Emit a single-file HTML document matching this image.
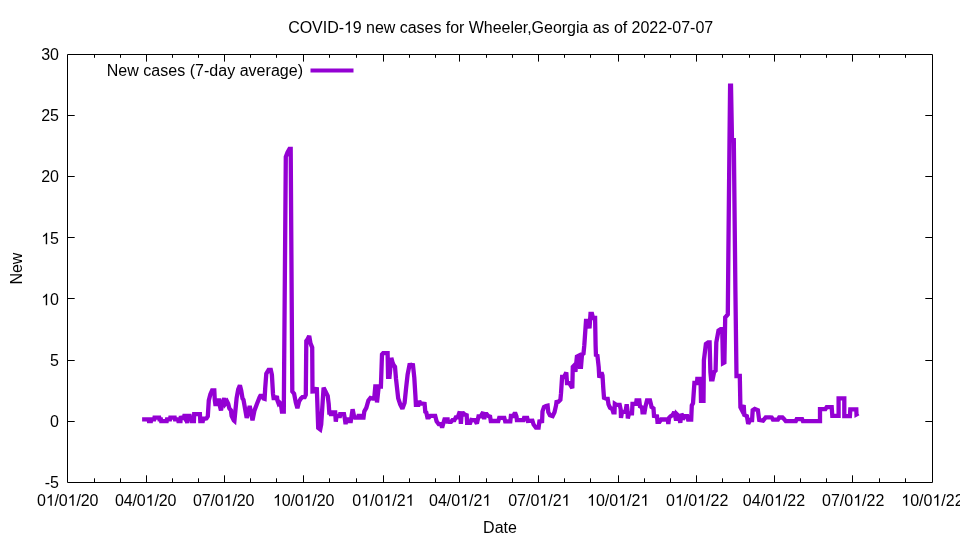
<!DOCTYPE html>
<html><head><meta charset="utf-8"><style>
html,body{margin:0;padding:0;background:#fff;}
svg{display:block;will-change:transform;}
text{font-family:"Liberation Sans",sans-serif;font-size:16px;fill:#000;}
</style></head><body>
<svg width="960" height="540" viewBox="0 0 960 540">
<defs><path id="one" d="M763,0L583,0L583,1147Q518,1085 412.5,1023Q307,961 223,930L223,1104Q374,1175 485,1276Q596,1377 643,1466L763,1466Z" fill="#000"/></defs>
<rect width="960" height="540" fill="#fff"/>
<path d="M67.5,54.5H932.5V482.5H67.5Z" fill="none" stroke="#000" stroke-width="1"/>
<path d="M146.5,482.5V475.3M146.5,54.5V61.6M224.5,482.5V475.3M224.5,54.5V61.6M303.5,482.5V475.3M303.5,54.5V61.6M383.5,482.5V475.3M383.5,54.5V61.6M459.5,482.5V475.3M459.5,54.5V61.6M538.5,482.5V475.3M538.5,54.5V61.6M618.5,482.5V475.3M618.5,54.5V61.6M696.5,482.5V475.3M696.5,54.5V61.6M774.5,482.5V475.3M774.5,54.5V61.6M852.5,482.5V475.3M852.5,54.5V61.6M94.5,482.5V478.3M94.5,54.5V57.8M120.5,482.5V478.3M120.5,54.5V57.8M172.5,482.5V478.3M172.5,54.5V57.8M198.5,482.5V478.3M198.5,54.5V57.8M250.5,482.5V478.3M250.5,54.5V57.8M276.5,482.5V478.3M276.5,54.5V57.8M329.5,482.5V478.3M329.5,54.5V57.8M356.5,482.5V478.3M356.5,54.5V57.8M409.5,482.5V478.3M409.5,54.5V57.8M435.5,482.5V478.3M435.5,54.5V57.8M486.5,482.5V478.3M486.5,54.5V57.8M512.5,482.5V478.3M512.5,54.5V57.8M564.5,482.5V478.3M564.5,54.5V57.8M590.5,482.5V478.3M590.5,54.5V57.8M644.5,482.5V478.3M644.5,54.5V57.8M670.5,482.5V478.3M670.5,54.5V57.8M722.5,482.5V478.3M722.5,54.5V57.8M749.5,482.5V478.3M749.5,54.5V57.8M800.5,482.5V478.3M800.5,54.5V57.8M826.5,482.5V478.3M826.5,54.5V57.8M879.5,482.5V478.3M879.5,54.5V57.8M905.5,482.5V478.3M905.5,54.5V57.8M67.5,115.5H74.7M932.5,115.5H925.3M67.5,176.5H74.7M932.5,176.5H925.3M67.5,237.5H74.7M932.5,237.5H925.3M67.5,298.5H74.7M932.5,298.5H925.3M67.5,360.5H74.7M932.5,360.5H925.3M67.5,421.5H74.7M932.5,421.5H925.3" fill="none" stroke="#000" stroke-width="1"/>
<text x="59" y="60.3" text-anchor="end">30</text>
<text x="59" y="121.3" text-anchor="end">25</text>
<text x="59" y="182.3" text-anchor="end">20</text>
<text x="59" y="244.3" text-anchor="end"> 5</text>
<text x="59" y="305.3" text-anchor="end"> 0</text>
<text x="59" y="366.3" text-anchor="end">5</text>
<text x="59" y="427.3" text-anchor="end">0</text>
<text x="59" y="488.3" text-anchor="end">-5</text>
<text x="67.7" y="505.8" text-anchor="middle" textLength="61.3" lengthAdjust="spacing">0 /0 /20</text>
<text x="145.70000000000002" y="505.8" text-anchor="middle" textLength="61.3" lengthAdjust="spacing">04/0 /20</text>
<text x="223.70000000000002" y="505.8" text-anchor="middle" textLength="61.3" lengthAdjust="spacing">07/0 /20</text>
<text x="303.65" y="505.8" text-anchor="middle" textLength="61.3" lengthAdjust="spacing"> 0/0 /20</text>
<text x="383.4" y="505.8" text-anchor="middle">0 /0 /2 </text>
<text x="460.15" y="505.8" text-anchor="middle">04/0 /2 </text>
<text x="539.3" y="505.8" text-anchor="middle">07/0 /2 </text>
<text x="618.1999999999999" y="505.8" text-anchor="middle"> 0/0 /2 </text>
<text x="697.1999999999999" y="505.8" text-anchor="middle">0 /0 /22</text>
<text x="774.0" y="505.8" text-anchor="middle">04/0 /22</text>
<text x="853.1999999999999" y="505.8" text-anchor="middle">07/0 /22</text>
<text x="932.4" y="505.8" text-anchor="middle"> 0/0 /22</text>
<text x="500" y="532.8" text-anchor="middle">Date</text>
<text x="288.15" y="32.8" textLength="425" lengthAdjust="spacing">COVID- 9 new cases for Wheeler,Georgia as of 2022-07-07</text>
<text transform="translate(22,268.6) rotate(-90)" text-anchor="middle">New</text>
<text x="106.7" y="75.5" textLength="196.3" lengthAdjust="spacing">New cases (7-day average)</text>
<use href="#one" transform="translate(41.20,244.30) scale(0.0078125,-0.0078125)"/>
<use href="#one" transform="translate(41.20,305.30) scale(0.0078125,-0.0078125)"/>
<use href="#one" transform="translate(45.81,505.80) scale(0.0078125,-0.0078125)"/>
<use href="#one" transform="translate(67.63,505.80) scale(0.0078125,-0.0078125)"/>
<use href="#one" transform="translate(145.63,505.80) scale(0.0078125,-0.0078125)"/>
<use href="#one" transform="translate(223.63,505.80) scale(0.0078125,-0.0078125)"/>
<use href="#one" transform="translate(273.00,505.80) scale(0.0078125,-0.0078125)"/>
<use href="#one" transform="translate(303.58,505.80) scale(0.0078125,-0.0078125)"/>
<use href="#one" transform="translate(361.15,505.80) scale(0.0078125,-0.0078125)"/>
<use href="#one" transform="translate(383.40,505.80) scale(0.0078125,-0.0078125)"/>
<use href="#one" transform="translate(405.63,505.80) scale(0.0078125,-0.0078125)"/>
<use href="#one" transform="translate(460.15,505.80) scale(0.0078125,-0.0078125)"/>
<use href="#one" transform="translate(482.38,505.80) scale(0.0078125,-0.0078125)"/>
<use href="#one" transform="translate(539.30,505.80) scale(0.0078125,-0.0078125)"/>
<use href="#one" transform="translate(561.53,505.80) scale(0.0078125,-0.0078125)"/>
<use href="#one" transform="translate(587.06,505.80) scale(0.0078125,-0.0078125)"/>
<use href="#one" transform="translate(618.20,505.80) scale(0.0078125,-0.0078125)"/>
<use href="#one" transform="translate(640.43,505.80) scale(0.0078125,-0.0078125)"/>
<use href="#one" transform="translate(674.95,505.80) scale(0.0078125,-0.0078125)"/>
<use href="#one" transform="translate(697.20,505.80) scale(0.0078125,-0.0078125)"/>
<use href="#one" transform="translate(774.00,505.80) scale(0.0078125,-0.0078125)"/>
<use href="#one" transform="translate(853.20,505.80) scale(0.0078125,-0.0078125)"/>
<use href="#one" transform="translate(901.26,505.80) scale(0.0078125,-0.0078125)"/>
<use href="#one" transform="translate(932.40,505.80) scale(0.0078125,-0.0078125)"/>
<use href="#one" transform="translate(343.93,32.80) scale(0.0078125,-0.0078125)"/>
<path d="M310.5,70.5H353.5" stroke="#9400d3" stroke-width="4" fill="none"/>
<path d="M142.1,419.4 L148.5,419.4 L148.9,421.2 L150.9,421.2 L151.2,419.4 L154.2,419.4 L154.5,417.7 L159.2,417.7 L159.5,419.4 L160.9,419.4 L161.2,421.2 L166.7,421.2 L167.0,419.4 L170.0,419.4 L170.3,417.7 L174.7,417.7 L175.0,419.4 L178.0,419.4 L178.4,421.2 L180.5,421.2 L180.9,416.0 L181.8,419.4 L182.6,416.0 L183.5,419.4 L184.3,416.0 L185.0,416.0 L185.5,419.4 L186.8,421.2 L187.3,422.9 L187.9,419.4 L188.4,416.0 L189.7,416.0 L190.0,417.7 L191.6,417.7 L192.0,421.2 L193.9,421.2 L194.2,414.2 L199.9,414.2 L200.3,421.2 L202.8,421.2 L203.4,418.6 L205.6,418.6 L206.5,418.4 L207.8,416.4 L208.8,400.4 L210.4,394.3 L212.1,390.4 L214.3,390.4 L214.8,400.4 L215.6,405.9 L216.5,400.4 L217.3,405.9 L218.2,400.4 L219.3,400.4 L219.9,406.0 L221.0,410.4 L222.1,404.8 L224.3,398.2 L225.4,403.7 L227.1,401.5 L228.2,403.7 L229.3,408.2 L231.0,410.4 L231.6,416.0 L233.8,420.4 L234.4,420.9 L236.6,398.2 L238.2,389.4 L239.9,385.4 L241.2,390.4 L242.5,398.4 L243.5,399.9 L244.3,404.4 L246.7,417.9 L249.7,405.9 L252.5,420.4 L254.5,410.4 L256.9,403.9 L259.5,397.4 L260.3,395.9 L262.0,395.9 L263.5,398.4 L264.6,398.8 L265.2,388.2 L266.3,373.7 L268.6,369.8 L270.8,369.8 L271.9,374.8 L273.0,393.7 L273.6,398.2 L275.8,398.2 L276.9,396.0 L277.4,400.4 L278.6,403.7 L279.7,402.6 L280.8,403.7 L281.9,411.5 L283.8,411.5 L285.8,156.9 L287.5,152.4 L289.5,148.8 L290.7,148.8 L292.3,391.5 L294.1,393.7 L295.8,402.6 L297.4,408.2 L299.1,401.5 L300.8,398.7 L302.4,397.1 L304.7,397.1 L305.8,394.8 L306.3,340.9 L307.5,339.4 L309.2,335.9 L310.5,343.4 L312.2,347.4 L312.5,391.5 L313.9,391.4 L316.1,389.3 L316.8,387.4 L318.2,427.9 L320.2,429.4 L321.2,424.4 L323.6,387.6 L325.6,391.7 L327.7,395.8 L328.7,403.9 L329.3,412.5 L330.6,412.5 L331.1,416.0 L331.7,412.5 L335.2,412.5 L335.8,421.7 L336.5,416.0 L339.9,416.0 L340.2,414.2 L344.0,414.2 L344.8,418.4 L345.6,424.2 L346.3,419.4 L347.7,419.4 L348.5,421.2 L350.8,421.2 L352.6,409.2 L354.0,416.0 L355.0,417.7 L358.0,417.7 L358.5,416.0 L360.0,416.0 L360.5,417.7 L363.5,417.7 L364.3,411.4 L366.3,407.9 L368.4,400.4 L370.4,397.9 L373.0,398.7 L374.2,398.7 L375.3,386.5 L376.4,386.5 L377.0,402.4 L378.7,386.5 L380.9,386.5 L382.0,354.3 L383.1,353.2 L387.6,353.2 L388.1,376.9 L389.5,376.9 L391.3,357.9 L392.5,362.4 L393.5,364.9 L395.0,366.9 L396.0,378.7 L398.2,398.4 L400.2,404.3 L402.4,408.7 L404.6,402.8 L406.1,388.0 L407.6,374.7 L409.8,363.5 L411.3,367.3 L412.8,363.5 L414.3,377.6 L415.4,395.4 L415.9,404.9 L418.4,404.9 L419.2,400.9 L420.5,403.4 L424.6,403.9 L425.3,411.8 L426.3,412.5 L427.4,417.3 L429.1,417.3 L430.4,415.9 L435.2,415.9 L436.6,421.4 L438.7,424.2 L441.1,424.2 L442.1,427.6 L443.1,424.2 L444.5,419.4 L447.6,419.4 L447.9,423.5 L448.2,421.8 L451.0,421.8 L452.4,420.1 L454.4,420.1 L455.8,417.3 L457.8,417.3 L459.2,413.2 L460.2,413.4 L460.9,423.9 L461.6,413.4 L463.3,413.2 L464.7,414.6 L466.7,415.3 L467.1,422.8 L470.2,422.8 L471.3,419.9 L472.5,420.1 L475.0,420.1 L476.9,423.6 L478.5,416.3 L480.7,416.3 L483.2,412.2 L484.2,419.2 L485.1,414.1 L486.7,414.1 L488.2,416.0 L490.1,416.6 L490.8,421.0 L498.3,421.0 L499.2,417.9 L504.3,417.9 L505.2,421.4 L510.3,421.4 L510.9,416.0 L513.4,416.0 L515.0,412.6 L516.5,416.6 L516.9,420.1 L523.5,420.1 L524.1,417.9 L527.2,417.9 L527.9,420.9 L532.4,420.7 L533.6,424.6 L535.9,427.7 L538.6,427.7 L539.4,421.5 L542.1,421.1 L542.5,411.4 L544.0,407.1 L546.0,406.0 L547.6,405.6 L548.3,412.2 L549.9,415.3 L552.6,416.1 L554.5,412.2 L556.1,405.2 L556.5,402.1 L558.4,401.7 L560.4,399.7 L561.0,393.4 L562.1,377.0 L564.2,377.0 L566.3,372.4 L567.0,383.1 L569.3,383.1 L572.3,388.2 L572.8,366.8 L574.3,365.3 L575.4,371.9 L576.9,356.6 L578.9,355.6 L580.0,366.8 L581.0,366.8 L582.0,354.6 L583.5,353.5 L584.3,345.4 L586.0,320.9 L588.5,320.9 L589.5,328.4 L590.5,313.9 L592.0,313.9 L593.0,318.0 L595.1,318.0 L595.6,345.4 L596.0,356.4 L597.3,354.4 L598.7,367.1 L599.3,377.7 L601.5,372.4 L602.5,375.4 L603.3,388.4 L604.0,397.7 L606.7,398.9 L607.7,398.9 L608.5,404.4 L610.0,407.7 L612.3,409.1 L613.3,412.4 L614.5,412.4 L614.8,403.9 L616.3,404.9 L619.7,404.9 L620.7,409.4 L621.0,417.9 L622.0,411.9 L625.5,411.9 L626.7,404.4 L627.5,410.4 L627.8,418.4 L629.0,413.4 L632.0,413.4 L632.5,403.9 L636.0,403.7 L636.5,400.4 L639.3,400.4 L640.0,406.4 L642.0,407.4 L642.5,412.4 L644.5,412.4 L645.5,406.4 L647.0,400.4 L650.0,400.4 L651.0,404.4 L651.5,406.9 L653.5,408.4 L654.0,415.9 L657.0,416.4 L657.5,421.9 L659.5,421.9 L661.1,419.5 L667.8,419.5 L668.3,424.0 L669.2,417.8 L670.6,416.2 L671.9,415.6 L673.3,414.0 L674.2,411.7 L675.0,415.1 L676.1,420.6 L676.7,414.0 L677.8,415.1 L679.2,417.3 L680.3,422.8 L681.4,414.0 L682.2,415.1 L682.8,419.5 L684.4,416.2 L687.2,416.2 L688.1,419.5 L691.2,419.5 L691.8,405.4 L693.0,403.4 L694.4,383.0 L697.0,383.0 L697.3,378.9 L700.5,378.9 L701.0,400.8 L703.5,400.8 L703.9,360.2 L705.9,343.9 L708.1,342.4 L709.6,342.4 L710.4,372.1 L711.1,379.4 L712.6,379.4 L714.1,372.1 L715.6,370.6 L716.3,342.4 L718.5,330.6 L720.7,329.1 L722.2,329.1 L723.0,363.2 L724.4,362.4 L725.2,317.3 L726.7,315.8 L727.8,314.4 L728.5,240.4 L729.5,140.4 L730.1,85.7 L731.0,85.7 L732.0,140.2 L733.8,140.2 L735.4,290.4 L736.5,376.0 L739.8,376.0 L740.4,407.1 L741.7,409.7 L743.7,405.1 L744.3,414.8 L746.9,416.1 L748.2,423.9 L750.1,420.0 L752.1,420.0 L752.7,410.3 L754.7,409.0 L757.9,410.3 L759.2,420.0 L763.1,420.7 L765.7,417.4 L770.2,417.4 L771.7,417.5 L772.9,419.6 L777.9,419.6 L779.2,417.5 L782.5,417.5 L784.2,419.1 L785.8,421.2 L795.8,421.2 L796.7,419.1 L802.1,419.1 L802.9,421.2 L820.0,421.2 L820.0,409.1 L825.4,409.1 L826.7,407.1 L831.7,407.1 L832.3,415.9 L838.6,415.9 L838.6,398.3 L844.3,398.3 L844.3,416.1 L849.9,416.1 L850.3,409.3 L856.3,409.3 L856.5,414.4 L858.4,413.4" fill="none" stroke="#9400d3" stroke-width="4.3" stroke-linejoin="miter" stroke-miterlimit="2.5" stroke-linecap="butt"/>
</svg>
</body></html>
